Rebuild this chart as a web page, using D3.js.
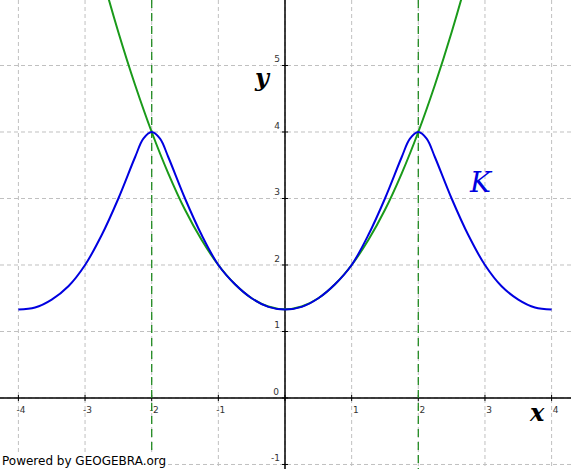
<!DOCTYPE html>
<html><head><meta charset="utf-8">
<script src="https://cdn.jsdelivr.net/npm/d3@7"></script>
<style>body{margin:0;background:#fff}</style>
</head><body>
<div id="chart"></div>
<script>
const width = 571, height = 469;

// values
const xTicks = [-4, -3, -2, -1, 1, 2, 3, 4];
const yTicks = [-1, 1, 2, 3, 4, 5];
const kX = [-4, -3.75, -3.5, -3.25, -3, -2.75, -2.5, -2.25, -2.125, -2, -1.875, -1.75, -1.5, -1.25, -1, -0.75, -0.5, -0.25, 0,
  0.25, 0.5, 0.75, 1, 1.25, 1.5, 1.75, 1.875, 2, 2.125, 2.25, 2.5, 2.75, 3, 3.25, 3.5, 3.75, 4];
const kY = [1.33, 1.36, 1.48, 1.68, 2.0, 2.45, 3.0, 3.62, 3.9, 4.0, 3.9, 3.62, 3.0, 2.45, 2.0, 1.71, 1.5, 1.37, 1.33,
  1.37, 1.5, 1.71, 2.0, 2.45, 3.0, 3.62, 3.9, 4.0, 3.9, 3.62, 3.0, 2.45, 2.0, 1.68, 1.48, 1.36, 1.33];
const gX = [-3, -2.75, -2.5, -2.25, -2, -1.75, -1.5, -1.25, -1, -0.75, -0.5, -0.25, 0,
  0.25, 0.5, 0.75, 1, 1.25, 1.5, 1.75, 2, 2.25, 2.5, 2.75, 3];
const gY = [7.33, 6.375, 5.5, 4.71, 4.0, 3.375, 2.83, 2.375, 2.0, 1.71, 1.5, 1.375, 1.333,
  1.375, 1.5, 1.71, 2.0, 2.375, 2.83, 3.375, 4.0, 4.71, 5.5, 6.375, 7.33];
const dashX = [-2, 2];

const x = d3.scaleLinear().domain([-4.276, 4.291]).range([0, width]);
const y = d3.scaleLinear().domain([-1.068, 5.985]).range([height, 0]);

const svg = d3.select("#chart").append("svg").attr("width", width).attr("height", height)
  .style("font-family", "DejaVu Sans");
svg.append("defs").append("clipPath").attr("id", "clip")
  .append("rect").attr("width", width).attr("height", height);

const gridX = d3.range(-4, 5), gridY = d3.range(-1, 6);
svg.selectAll(".gx").data(gridX).join("line")
  .attr("x1", d => x(d)).attr("x2", d => x(d)).attr("y1", 0).attr("y2", height)
  .attr("stroke", "#c0c0c0").attr("stroke-dasharray", "4,3");
svg.selectAll(".gy").data(gridY).join("line")
  .attr("y1", d => y(d)).attr("y2", d => y(d)).attr("x1", 0).attr("x2", width)
  .attr("stroke", "#c0c0c0").attr("stroke-dasharray", "4,3");

// axes
svg.append("line").attr("x1", 0).attr("x2", width).attr("y1", y(0)).attr("y2", y(0)).attr("stroke", "#000").attr("stroke-width", 1.5);
svg.append("line").attr("x1", x(0)).attr("x2", x(0)).attr("y1", 0).attr("y2", height).attr("stroke", "#000").attr("stroke-width", 1.5);
svg.selectAll(".tx").data(gridX).join("line")
  .attr("x1", d => x(d)).attr("x2", d => x(d)).attr("y1", y(0) - 3).attr("y2", y(0) + 3).attr("stroke", "#000");
svg.selectAll(".ty").data(gridY).join("line")
  .attr("y1", d => y(d)).attr("y2", d => y(d)).attr("x1", x(0) - 3).attr("x2", x(0) + 3).attr("stroke", "#000");

svg.selectAll(".lx").data(xTicks).join("text")
  .attr("x", d => x(d) + 7).attr("y", y(0) + 15).attr("text-anchor", "end")
  .attr("font-size", 9).attr("fill", "#333").text(d => d);
svg.selectAll(".ly").data(yTicks).join("text")
  .attr("x", x(0) - 5).attr("y", d => y(d) - 3).attr("text-anchor", "end")
  .attr("font-size", 9).attr("fill", "#333").text(d => d);
svg.append("text").attr("x", x(0) - 6).attr("y", y(0) - 3).attr("text-anchor", "end")
  .attr("font-size", 9).attr("fill", "#333").text("0");

svg.append("text").attr("x", 530).attr("y", 421).attr("font-family", "DejaVu Serif")
  .attr("font-style", "italic").attr("font-weight", "bold").attr("font-size", 24).text("x");
svg.append("text").attr("x", 255).attr("y", 86).attr("font-family", "DejaVu Serif")
  .attr("font-style", "italic").attr("font-weight", "bold").attr("font-size", 24).text("y");

// dashed verticals
svg.selectAll(".dv").data(dashX).join("line")
  .attr("x1", d => x(d)).attr("x2", d => x(d)).attr("y1", 0).attr("y2", height)
  .attr("stroke", "#228b22").attr("stroke-width", 1.3).attr("stroke-dasharray", "8,5");

const line = d3.line().curve(d3.curveCatmullRom);
svg.append("path").attr("clip-path", "url(#clip)")
  .attr("d", line(gX.map((d, i) => [x(d), y(gY[i])])))
  .attr("fill", "none").attr("stroke", "#1a9a1a").attr("stroke-width", 2);
svg.append("path")
  .attr("d", line(kX.map((d, i) => [x(d), y(kY[i])])))
  .attr("fill", "none").attr("stroke", "#0000e0").attr("stroke-width", 2);

svg.append("text").attr("x", 470).attr("y", 192).attr("font-family", "DejaVu Serif")
  .attr("font-style", "italic").attr("font-size", 28).attr("fill", "#0000e0").text("K");

svg.append("rect").attr("x", 0).attr("y", height - 17).attr("width", 162).attr("height", 17).attr("fill", "#fff");
svg.append("text").attr("x", 2).attr("y", height - 4).attr("font-size", 12).attr("fill", "#000")
  .text("Powered by GEOGEBRA.org");
</script>
</body></html>
